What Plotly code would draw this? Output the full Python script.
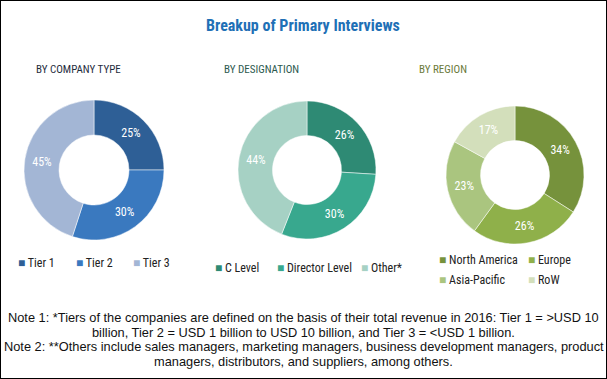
import plotly.graph_objects as go

W, H = 607, 379

title_text = "Breakup of Primary Interviews"
subtitles = ["BY COMPANY TYPE", "BY DESIGNATION", "BY REGION"]

company_labels = ["Tier 1", "Tier 2", "Tier 3"]
company_values = [25, 30, 45]
company_colors = ["#2e5f96", "#3a79bf", "#a3b6d5"]

designation_labels = ["C Level", "Director Level", "Other*"]
designation_values = [26, 30, 44]
designation_colors = ["#2e8a74", "#38a88e", "#a6d1c4"]

region_labels = ["North America", "Europe", "Asia-Pacific", "RoW"]
region_values = [34, 26, 23, 17]
region_colors = ["#76923c", "#8fb04a", "#aac57f", "#d3dfbb"]

notes = [
    "Note 1: *Tiers of the companies are defined on the basis of their total revenue in 2016: Tier 1 = >USD 10",
    "billion, Tier 2 = USD 1 billion to USD 10 billion, and Tier 3 = <USD 1 billion.",
    "Note 2: **Others include sales managers, marketing managers, business development managers, product",
    "managers, distributors, and suppliers, among others.",
]

FONT = "Roboto Condensed, Liberation Sans Narrow, Arial Narrow, Liberation Sans, sans-serif"
NOTE_FONT = "Liberation Sans, Arial, sans-serif"


def px_x(x):
    return x / W


def px_y(y):
    return 1 - y / H


def pie(labels, values, colors, cx, cy, r):
    return go.Pie(
        labels=labels,
        values=values,
        marker=dict(colors=colors, line=dict(color="white", width=0.5)),
        hole=0.5,
        sort=False,
        direction="clockwise",
        rotation=0,
        texttemplate="%{value}%",
        textposition="inside",
        insidetextorientation="horizontal",
        textfont=dict(color="white", size=12, family=FONT),
        showlegend=False,
        domain=dict(x=[px_x(cx - r), px_x(cx + r)], y=[px_y(cy + r), px_y(cy - r)]),
        hoverinfo="label+percent",
    )


fig = go.Figure()
fig.add_trace(pie(company_labels, company_values, company_colors, 94, 170, 70))
fig.add_trace(pie(designation_labels, designation_values, designation_colors, 307, 170, 69))
fig.add_trace(pie(region_labels, region_values, region_colors, 515, 175, 69))

annotations = []
annotations.append(dict(text="<b>" + title_text + "</b>", x=px_x(303), y=px_y(25),
                        font=dict(size=16, color="#1f70b6", family=FONT)))
sub_pos = [(78, "#1f2d3d"), (261, "#2d5a4f"), (443, "#6b7a3a")]
for s, (x, c) in zip(subtitles, sub_pos):
    annotations.append(dict(text=s, x=px_x(x), y=px_y(69), font=dict(size=11, color=c, family=FONT)))


def legend_item(label, color, x, y):
    return dict(text=f"<span style='color:{color}'>■</span> {label}", x=px_x(x), y=px_y(y),
                xanchor="left", font=dict(size=12, color="#222222", family=FONT))


leg1 = [(16, 263), (74, 263), (131, 263)]
for l, c, (x, y) in zip(company_labels, company_colors, leg1):
    annotations.append(legend_item(l, c, x, y))
leg2 = [(213, 268), (275, 268), (359, 268)]
for l, c, (x, y) in zip(designation_labels, designation_colors, leg2):
    annotations.append(legend_item(l, c, x, y))
leg3 = [(437, 260), (526, 260), (437, 280), (526, 280)]
for l, c, (x, y) in zip(region_labels, region_colors, leg3):
    annotations.append(legend_item(l, c, x, y))

note_y = [317, 332, 346, 361]
for t, y in zip(notes, note_y):
    annotations.append(dict(text=t, x=px_x(303.5), y=px_y(y),
                            font=dict(size=12.8, color="#111111", family=NOTE_FONT)))

for a in annotations:
    a.setdefault("xref", "paper")
    a.setdefault("yref", "paper")
    a.setdefault("showarrow", False)
    a.setdefault("xanchor", "center")
    a.setdefault("yanchor", "middle")

fig.update_layout(
    width=W,
    height=H,
    margin=dict(l=0, r=0, t=0, b=0),
    paper_bgcolor="white",
    plot_bgcolor="white",
    annotations=annotations,
    shapes=[dict(type="rect", xref="paper", yref="paper", x0=0, y0=0, x1=1, y1=1,
                 line=dict(color="black", width=2))],
)

fig.write_html("out.html", config={"displayModeBar": False},
               post_script="document.body.style.margin='0';")
